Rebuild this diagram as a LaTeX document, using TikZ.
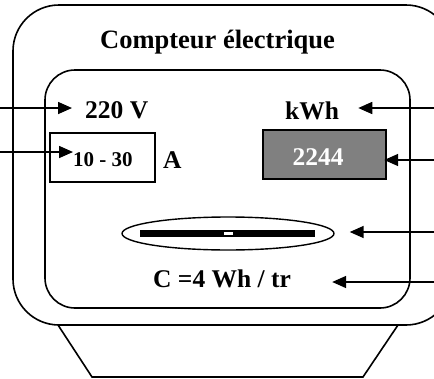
\documentclass[tikz,border=0pt]{standalone}
\usepackage{fontspec}
\setmainfont{Liberation Serif}
\usetikzlibrary{arrows.meta,shapes.geometric,calc}
\begin{document}
\begin{tikzpicture}[x=1pt,y=-1pt,
  lbl/.style={inner sep=0pt,font=\fontsize{25.5}{30}\selectfont\bfseries},
  lbltitle/.style={inner sep=0pt,font=\fontsize{26.5}{31}\selectfont\bfseries},
  lblsmall/.style={inner sep=0pt,font=\fontsize{21}{25}\selectfont\bfseries},
  frame/.style={line width=1.6pt},
  boxs/.style={draw,line width=2.4pt,inner sep=0pt},
  arr/.style={line width=1.6pt,-{Triangle[length=14pt,width=12pt]}}]
\useasboundingbox (0,0) rectangle (434,378);
\begin{scope}
\clip (0,0) rectangle (434,378);
% outer case
\draw[frame,rounded corners=46pt] (13,5) rectangle (452,325);
% inner panel
\draw[frame,rounded corners=30pt] (45,70) rectangle (410,308);
% base trapezoid
\draw[frame] (58,325) -- (92,377) -- (363,377) -- (398,325);
\end{scope}
% title
\node[lbltitle,anchor=base] (title) at (217.5,48) {Compteur électrique};
% texts
\node[lbl,anchor=base west] (t220) at (85,118) {220 V};
\node[lbl,anchor=base west] (kwh) at (285,119) {kWh};
% range box
\node[boxs,minimum width=105pt,minimum height=49pt] (rbox) at (102.5,157.5) {};
\node[lblsmall,anchor=base west] (range) at (73,166) {10 - 30};
\node[lbl,anchor=base west] (amp) at (163,168) {A};
% counter
\node[boxs,fill=black!50,minimum width=123pt,minimum height=49pt] (cbox) at (324.5,154.5) {};
\node[lbl,anchor=base,text=white] (count) at (318,165) {2244};
% disc
\node[draw,ellipse,line width=1.4pt,minimum width=212pt,minimum height=33pt,inner sep=0pt] (disc) at (228,233.5) {};
\node[fill=black,minimum width=175pt,minimum height=7pt,inner sep=0pt] (bar) at (227.5,233.5) {};
\node[fill=white,minimum width=9pt,minimum height=3pt,inner sep=0pt] (mark) at (228,233.5) {};
% constant
\node[lbl,anchor=base west] (cst) at (153,287) {C =4 Wh / tr};
% free ends
\coordinate (e1) at (0,108);
\coordinate (e2) at (0,152);
\coordinate (e3) at (434,108);
\coordinate (e4) at (434,160);
\coordinate (e5) at (434,232);
\coordinate (e6) at (434,282);
% arrows
\draw[arr] (e1) -- (e1 -| {$(t220.west)+(-13,0)$});
\draw[arr] (e2) -- (e2 -| range.west);
\draw[arr] (e3) -- (e3 -| {$(kwh.east)+(19,0)$});
\draw[arr] (e4) -- (e4 -| {$(cbox.east)+(-3,0)$});
\draw[arr] (e5) -- (e5 -| {$(disc.east)+(15,0)$});
\draw[arr] (e6) -- (e6 -| {$(cst.east)+(41,0)$});
\end{tikzpicture}
\end{document}
